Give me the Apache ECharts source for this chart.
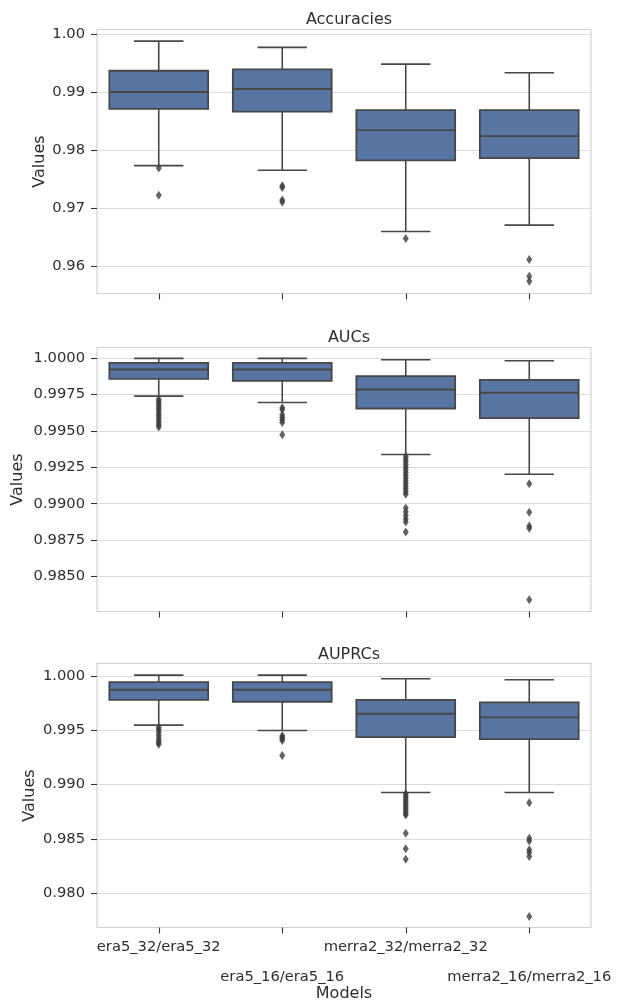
<!DOCTYPE html>
<html>
<head>
<meta charset="utf-8">
<script src="https://cdn.jsdelivr.net/npm/echarts@6/dist/echarts.min.js"></script>
<style>html,body{margin:0;padding:0;background:#fff}#c{width:618px;height:1001px}</style>
</head>
<body>
<div id="c"></div>
<script>
// ---------------- data ----------------
const categories = ['era5_32/era5_32', 'era5_16/era5_16', 'merra2_32/merra2_32', 'merra2_16/merra2_16'];
const panelTitles = ['Accuracies', 'AUCs', 'AUPRCs'];

// [lower whisker, Q1, median, Q3, upper whisker]
const accuracyStats = [
  [0.97732, 0.98708, 0.99000, 0.99365, 0.99875],
  [0.97652, 0.98663, 0.99051, 0.99389, 0.99767],
  [0.96599, 0.97823, 0.98343, 0.98686, 0.99480],
  [0.96708, 0.97863, 0.98240, 0.98686, 0.99331]
];
const accuracyOutliers = [
  [0.97690, 0.97223],
  [0.97388, 0.97354, 0.97143, 0.97108],
  [0.96479],
  [0.96115, 0.95829, 0.95743]
];
const aucStats = [
  [0.99739, 0.99858, 0.99922, 0.99968, 0.99998],
  [0.99695, 0.99844, 0.99922, 0.99968, 0.99998],
  [0.99338, 0.99654, 0.99785, 0.99876, 0.99989],
  [0.99203, 0.99588, 0.99762, 0.99851, 0.99982]
];
const aucOutliers = [
  [0.99718, 0.99702, 0.99688, 0.99671, 0.99655, 0.99640, 0.99622, 0.99606, 0.99590, 0.99572, 0.99556, 0.99540, 0.99527],
  [0.99660, 0.99645, 0.99611, 0.99592, 0.99576, 0.99558, 0.99473],
  [0.99326, 0.99308, 0.99290, 0.99270, 0.99252, 0.99233, 0.99214, 0.99196, 0.99177, 0.99158, 0.99139, 0.99120, 0.99101, 0.99083, 0.99066,
   0.98970, 0.98945, 0.98920, 0.98895, 0.98875, 0.98806],
  [0.99137, 0.98942, 0.98848, 0.98832, 0.98340]
];
const auprcStats = [
  [0.99546, 0.99779, 0.99871, 0.99942, 1.00006],
  [0.99497, 0.99761, 0.99871, 0.99942, 1.00006],
  [0.98926, 0.99436, 0.99650, 0.99779, 0.99972],
  [0.98926, 0.99417, 0.99617, 0.99755, 0.99963]
];
const auprcOutliers = [
  [0.99525, 0.99505, 0.99480, 0.99452, 0.99427, 0.99405, 0.99386, 0.99370],
  [0.99448, 0.99434, 0.99420, 0.99405, 0.99267],
  [0.98915, 0.98895, 0.98875, 0.98855, 0.98835, 0.98815, 0.98795, 0.98775, 0.98755, 0.98735, 0.98720,
   0.98552, 0.98408, 0.98313],
  [0.98831, 0.98506, 0.98480, 0.98399, 0.98374, 0.98337, 0.97785]
];
const accuracyTicks = [0.96, 0.97, 0.98, 0.99, 1.00];
const aucTicks = [0.985, 0.9875, 0.99, 0.9925, 0.995, 0.9975, 1.0];
const auprcTicks = [0.98, 0.985, 0.99, 0.995, 1.0];
const accuracyRange = [0.95532, 1.00075];
const aucRange = [0.98260, 1.00073];
const auprcRange = [0.97684, 1.00113];

// ---------------- style ----------------
const FONT = 'DejaVu Sans';
const TXT = '#2e2e2e';
const BOX = '#5875a4';
const LINE = '#474747';
const GRIDC = '#dcdcdc';

const panels = [
  {stats: accuracyStats, out: accuracyOutliers, ticks: accuracyTicks, range: accuracyRange, dec: 2, top: 29.5, gap: 49, titleTop: 7},
  {stats: aucStats, out: aucOutliers, ticks: aucTicks, range: aucRange, dec: 4, top: 347.5, gap: 71, titleTop: 325},
  {stats: auprcStats, out: auprcOutliers, ticks: auprcTicks, range: auprcRange, dec: 3, top: 663.5, gap: 59, titleTop: 642}
];

function renderBox(params, api) {
  const c = api.value(0);
  const pLo = api.coord([c, api.value(1)]);
  const pQ1 = api.coord([c, api.value(2)]);
  const pMed = api.coord([c, api.value(3)]);
  const pQ3 = api.coord([c, api.value(4)]);
  const pHi = api.coord([c, api.value(5)]);
  const band = api.size([1, 0])[0];
  const bw = band * 0.8, cw = bw / 2, x = pMed[0];
  const ls = {stroke: LINE, lineWidth: 1.6};
  return {type: 'group', children: [
    {type: 'line', shape: {x1: x, y1: pHi[1], x2: x, y2: pQ3[1]}, style: ls},
    {type: 'line', shape: {x1: x, y1: pQ1[1], x2: x, y2: pLo[1]}, style: ls},
    {type: 'line', shape: {x1: x - cw / 2, y1: pHi[1], x2: x + cw / 2, y2: pHi[1]}, style: ls},
    {type: 'line', shape: {x1: x - cw / 2, y1: pLo[1], x2: x + cw / 2, y2: pLo[1]}, style: ls},
    {type: 'rect', shape: {x: x - bw / 2, y: pQ3[1], width: bw, height: pQ1[1] - pQ3[1]},
      style: {fill: BOX, stroke: LINE, lineWidth: 1.8}},
    {type: 'line', shape: {x1: x - bw / 2, y1: pMed[1], x2: x + bw / 2, y2: pMed[1]},
      style: {stroke: LINE, lineWidth: 1.9}}
  ]};
}

const grid = [], xAxis = [], yAxis = [], series = [], title = [];
panels.forEach((p, i) => {
  grid.push({left: 97, width: 494, top: p.top, height: 264, show: true, containLabel: false,
    outerBoundsMode: 'none',
    borderColor: '#d2d2d2', borderWidth: 1.2, backgroundColor: '#fff'});
  title.push({text: panelTitles[i], left: 344, top: p.titleTop, textAlign: 'center',
    textStyle: {fontFamily: FONT, fontSize: 16, fontWeight: 'normal', color: TXT}});
  const last = i === panels.length - 1;
  xAxis.push({type: 'category', gridIndex: i, data: categories, boundaryGap: true,
    axisLine: {show: false},
    axisTick: {show: true, alignWithLabel: true, length: 6, lineStyle: {color: '#333', width: 1.1}},
    axisLabel: {show: last, interval: 0, margin: 5, fontFamily: FONT, fontSize: 14.7, color: TXT,
      lineHeight: 29.5, verticalAlign: 'top', hideOverlap: false,
      formatter: (v, idx) => (idx % 2 === 1 ? '\n' + v : v)},
    splitLine: {show: false},
    name: last ? 'Models' : '', nameLocation: 'middle', nameGap: 58, nameMoveOverlap: false,
    nameTextStyle: {fontFamily: FONT, fontSize: 16, color: TXT}});
  yAxis.push({type: 'value', gridIndex: i, min: p.range[0], max: p.range[1],
    name: 'Values', nameLocation: 'middle', nameGap: p.gap, nameMoveOverlap: false,
    nameTextStyle: {fontFamily: FONT, fontSize: 16, color: TXT},
    axisLine: {show: false},
    axisTick: {show: true, length: 6, customValues: p.ticks, lineStyle: {color: '#333', width: 1.1}},
    axisLabel: {customValues: p.ticks, margin: 12, fontFamily: FONT, fontSize: 14.7, color: TXT,
      formatter: v => Number(v).toFixed(p.dec)},
    splitLine: {show: true, lineStyle: {color: GRIDC, width: 1.1}}});
  series.push({type: 'custom', xAxisIndex: i, yAxisIndex: i, renderItem: renderBox,
    encode: {x: 0, y: [1, 2, 3, 4, 5]}, z: 3,
    data: p.stats.map((s, k) => [k].concat(s))});
  const pts = [];
  p.out.forEach((arr, k) => arr.forEach(v => pts.push([k, v])));
  series.push({type: 'scatter', xAxisIndex: i, yAxisIndex: i, symbol: 'diamond', symbolSize: [6, 9],
    itemStyle: {color: '#3d3d3d'}, z: 5, data: pts});
});

const chart = echarts.init(document.getElementById('c'), null, {renderer: 'canvas'});
chart.setOption({animation: false, backgroundColor: '#fff', title, grid, xAxis, yAxis, series});
</script>
</body>
</html>
